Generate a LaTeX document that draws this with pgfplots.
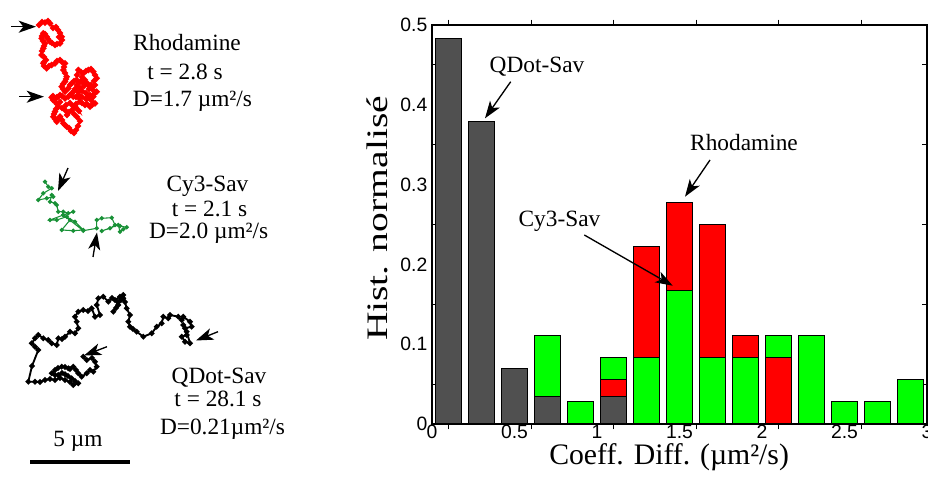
\documentclass[border=0pt]{standalone}
\usepackage{fontspec}
\setmainfont{Liberation Serif}
\setsansfont{Liberation Sans}
\usepackage{pgfplots}
\pgfplotsset{compat=1.18}
\usetikzlibrary{arrows.meta}
\definecolor{qgray}{RGB}{80,80,80}
\definecolor{cgreen}{RGB}{0,255,0}
\definecolor{rred}{RGB}{255,0,0}
\definecolor{tgreen}{RGB}{25,145,55}
\newcommand{\anno}{\fontsize{17.5}{20}\selectfont}
\begin{document}
\begin{tikzpicture}[arr/.style={-{Stealth[length=13pt,width=9pt,inset=3.5pt]}, line width=1pt}]
\useasboundingbox (0,0) rectangle (696pt,357.75pt);
\begin{axis}[
 at={(324pt,39.75pt)}, anchor=south west, scale only axis,
 width=371.25pt, height=299.25pt,
 xmin=0, xmax=3, ymin=0, ymax=0.5,
 ybar, bar width=0.16, bar shift=0pt,
 xtick={0,0.5,1,1.5,2,2.5,3},
 minor xtick={0.1,0.6,1.1,1.6,2.1,2.6},
 ytick={0,0.1,0.2,0.3,0.4,0.5},
 minor ytick={0.05,0.15,0.25,0.35,0.45},
 major tick length=0pt, minor tick length=4pt,
 tick style={black, line width=0.6pt},
 axis line style={line width=1pt},
 ticklabel style={font=\fontsize{14.5}{16}\sffamily},
 xticklabel style={yshift=3pt},
 /pgf/number format/assume math mode=true,
 xlabel={Coeff. Diff. (µm²/s)},
 ylabel={\scalebox{1.33}[1]{Hist. normalisé}},
 xlabel style={at={(axis description cs:0.479,-0.0827)}, anchor=center, font=\fontsize{22.3}{26}\selectfont},
 ylabel style={at={(axis description cs:-0.111,0.515)}, anchor=center, font=\fontsize{22.3}{26}\selectfont},
]
% back layer (tallest bar of each bin)
\addplot[fill=qgray, draw=black, line width=0.75pt] coordinates {(0.1,0.4828) (0.3,0.3793) (0.5,0.0690)};
\addplot[fill=cgreen, draw=black, line width=0.75pt] coordinates {(0.7,0.1111) (0.9,0.0278) (1.1,0.0833) (2.1,0.1111) (2.3,0.1111) (2.5,0.0278) (2.7,0.0278) (2.9,0.0556)};
\addplot[fill=rred, draw=black, line width=0.75pt] coordinates {(1.3,0.2222) (1.5,0.2778) (1.7,0.2500) (1.9,0.1111)};
% middle layer
\addplot[fill=qgray, draw=black, line width=0.75pt] coordinates {(0.7,0.0345)};
\addplot[fill=rred, draw=black, line width=0.75pt] coordinates {(1.1,0.0556) (2.1,0.0833)};
\addplot[fill=cgreen, draw=black, line width=0.75pt] coordinates {(1.3,0.0833) (1.5,0.1667) (1.7,0.0833) (1.9,0.0833)};
% front layer
\addplot[fill=qgray, draw=black, line width=0.75pt] coordinates {(1.1,0.0345)};
\end{axis}
\begin{axis}[
 at={(0pt,0pt)}, anchor=south west, scale only axis,
 width=696pt, height=357.75pt,
 xmin=0, xmax=928, ymin=0, ymax=477, y dir=reverse,
 hide axis, clip=false,
]
% Rhodamine trajectory
\addplot[rred, line width=1.7pt, mark=*, mark size=1.4pt] coordinates {
(39,25) (42,22) (45,22.7) (48,21) (50,23.3) (53,28) (56,27) (58,30) (60,33) (61.7,36.7) (59,37) (62,40) (60,43.3) (57,44) (55,45) (52,43) (50,41.7) (48,39) (46.7,36.7) (45,34) (43.3,33.3) (42,36) (41.7,38.3) (43,41) (45,43.3) (44,46) (43.3,48.3) (42,51) (41.7,55) (44,57) (46,60) (44,62) (43.3,63.3) (44,66) (46.7,68.3) (49,66) (51.7,65) (55,63.3) (57,61) (60,60) (62,62) (65,63.3) (64,67) (63.3,70) (65,73) (66.7,76.7) (66,79) (65,81.7) (63,84) (61.7,86.7) (63,89) (65,91.7) (68.3,88.3) (70,85) (71.7,83.3) (74,81) (76.7,80) (77,75) (78.3,70) (81,72) (83.3,73.3) (86,71) (88.3,70) (91,69) (93.3,71.7) (95,75) (96.7,78.3) (94,81) (95,85) (92,87) (88,84) (85,80) (82,77) (80,82) (82,82) (84,86) (86,83) (89,89) (91,85) (93,90) (96.7,91.7) (94,94) (93.3,96.7) (90,95) (86,93) (88,97) (82,91) (80,88) (77,85) (75,89) (78,92) (82,97) (86,99) (91,100) (95,103.3) (92,105) (90,106.7) (87,104) (85,105) (82,103) (80,101.7) (79,98) (78.3,95) (76,97) (73.3,96.7) (71.7,93.3) (74,91) (70,95) (68.3,96.7) (65,98.3) (62,96) (60,95) (58,97) (56.7,97.3) (53,96) (51.7,97.3) (53,100) (55,101.7) (57,104) (60,102) (58.3,106.7) (56,109) (55,111.7) (54,114) (53.3,116.7) (55,119) (56.7,121.7) (58,119) (60,116.7) (62,120) (63.3,123.3) (65,125) (66.7,126.7) (69,128) (71,131) (74,133) (76,130) (78,126) (80,121) (77,117) (74,114) (72,110) (69,112) (67,115) (65,110) (62,108) (66,105) (70,103) (73,106) (76,108) (79,111) (76,104)
};
% Cy3-Sav trajectory
\addplot[tgreen, line width=0.8pt, mark=*, mark size=1.2pt] coordinates {
(45,181.7) (48.3,186.7) (51.7,188.3) (43.3,193.3) (38.3,200) (46.7,198.3) (53.3,196.7) (51.7,195) (50,201.7) (55,203.3) (56.7,205) (58.3,211.7) (63.3,211.7) (68.3,213.3) (73.3,211.7) (63.3,215) (50,220) (56.7,220) (66.7,216.7) (70,220) (61.7,230) (73.3,230.7) (83.3,230) (75,221.7) (63.3,215) (83.3,230.7) (96.7,228.3) (96.7,220) (101.7,218.3) (111.7,217.7) (115,225) (110,228.3) (101.7,231) (118.3,225) (120,231.7) (123.3,229.3) (126.7,227.3) (120,226)
};
% QDot-Sav trajectory
\addplot[black, line width=1.4pt, mark=*, mark size=1.3pt] coordinates {
(83.3,356.7) (86.7,360) (92,358) (95,361.7) (96.7,366.7) (93.3,371.7) (90,370) (86.7,373.3) (81.7,376.7) (78.3,373.3) (76,370) (73.3,366.7) (70,369) (68.3,368.3) (65,367) (61.7,366.7) (58,368) (55,370) (51.7,373.3) (55,375) (58.3,375) (62,373) (65,374.3) (68,376) (71.7,378.3) (75,381) (78.3,383.3) (73.3,385) (70,382) (65,380) (60,378) (55,380) (50,379) (45,380) (40,382) (35,381.7) (28.3,381.7) (32,366) (38.3,350) (35,346.7) (31.7,343.3) (35,338.3) (38.3,335) (43.3,338.3) (48.3,340) (51.7,343.3) (56.7,345) (58.3,338.3) (62,339) (65,336.7) (70,331.7) (75,333.3) (78.3,328.3) (76.7,321.7) (75,316.7) (78.3,311.7) (83.3,310) (88,311) (91.7,308.3) (95,316.7) (100,315) (96.7,305) (98.3,298.3) (103.3,296.7) (108.3,301.7) (112,298) (115,300) (120,296.7) (123.3,298.3) (118,302) (113.3,311.7) (116,308) (118.3,305) (121,300) (123.3,295) (125,302) (126.7,308.3) (130,315) (128.3,321.7) (130,326.7) (133,329) (136.7,331.7) (143.3,336.7) (151.7,333.3) (156.7,326.7) (161.7,323.3) (163.3,316.7) (168.3,318.3) (170,315) (178.3,316.7) (181.7,320) (183.3,316.7) (190,321.7) (191.7,326.7) (185,328.3) (186.7,335) (181.7,336.7) (185,341.7) (190,343.3) (186.7,331.7) (183.3,325)
};
% scale bar
\addplot[black, line width=3pt] coordinates {(30,461.5) (130,461.5)};
% left arrows
\draw[arr] (axis cs:11,26.7) -- (axis cs:36,26.7);
\draw[arr] (axis cs:19,96.7) -- (axis cs:44,96.7);
\draw[arr] (axis cs:68,168) -- (axis cs:58,191);
\draw[arr] (axis cs:93,257) -- (axis cs:97,232.5);
\draw[arr] (axis cs:218,331.7) -- (axis cs:196,340.5);
\draw[arr] (axis cs:107,346.7) -- (axis cs:84,355.5);
% histogram arrows
\draw[arr] (axis cs:510.7,81.7) -- (axis cs:485,118.3);
\draw[arr] (axis cs:710,160) -- (axis cs:685,196.7);
\draw[arr] (axis cs:584.3,235) -- (axis cs:672.7,285.7);
% left texts
\node[font=\anno, anchor=base] at (axis cs:187,50.7) {Rhodamine};
\node[font=\anno, anchor=base] at (axis cs:185,80) {t = 2.8 s};
\node[font=\anno, anchor=base] at (axis cs:192.5,107) {D=1.7 µm²/s};
\node[font=\anno, anchor=base] at (axis cs:207.5,191.7) {Cy3-Sav};
\node[font=\anno, anchor=base] at (axis cs:209.5,216.7) {t = 2.1 s};
\node[font=\anno, anchor=base] at (axis cs:208.7,239) {D=2.0 µm²/s};
\node[font=\anno, anchor=base] at (axis cs:219,383) {QDot-Sav};
\node[font=\anno, anchor=base] at (axis cs:218,406.7) {t = 28.1 s};
\node[font=\anno, anchor=base] at (axis cs:222.5,434) {D=0.21µm²/s};
\node[font=\anno, anchor=base] at (axis cs:78,446.7) {5 µm};
% histogram annotations
\node[font=\anno, anchor=base] at (axis cs:537,72.7) {QDot-Sav};
\node[font=\anno, anchor=base] at (axis cs:744,151) {Rhodamine};
\node[font=\anno, anchor=base] at (axis cs:559.5,226.7) {Cy3-Sav};
\end{axis}
\end{tikzpicture}
\end{document}
